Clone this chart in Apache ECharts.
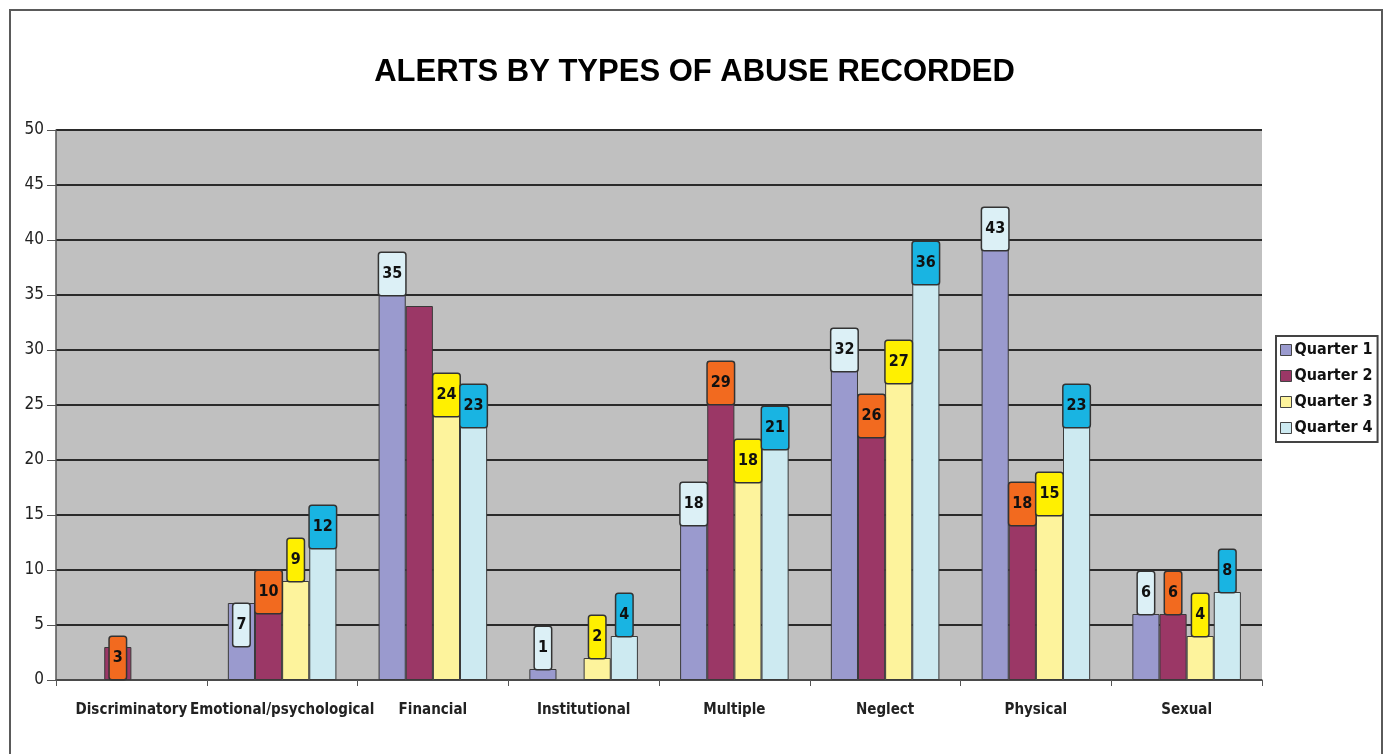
<!DOCTYPE html>
<html>
<head>
<meta charset="utf-8">
<script src="https://cdn.jsdelivr.net/npm/echarts@6/dist/echarts.min.js"></script>
<style>
html,body{margin:0;padding:0;background:#fff;}
#chart{width:1389px;height:754px;}
</style>
</head>
<body>
<div id="chart"></div>
<script>
const categories = ['Discriminatory','Emotional/psychological','Financial','Institutional','Multiple','Neglect','Physical','Sexual'];
const quarter1 = [0, 7, 35, 1, 18, 32, 43, 6];
const quarter2 = [3, 10, 34, 0, 29, 26, 18, 6];
const quarter3 = [0, 9, 24, 2, 18, 27, 15, 4];
const quarter4 = [0, 12, 23, 4, 21, 36, 23, 8];
const seriesNames = ['Quarter 1','Quarter 2','Quarter 3','Quarter 4'];
const yTicks = [0,5,10,15,20,25,30,35,40,45,50];

// label placement config (style, not data); default is 'top'
const labelPlacement = {
  'Quarter 1': {'Emotional/psychological': 'insideTop', 'Multiple': 'insideTop', 'Neglect': 'insideTop', 'Physical': 'insideTop'},
  'Quarter 2': {'Emotional/psychological': 'insideTop', 'Multiple': 'insideTop', 'Neglect': 'insideTop', 'Physical': 'insideTop', 'Discriminatory': 'insideBottom', 'Financial': 'hidden'},
  'Quarter 3': {},
  'Quarter 4': {}
};

const barColors = ['#9A9ACE','#9B3766','#FDF39C','#CDEAF1'];
const labelColors = ['#DCF0F6','#F26A1F','#FFF000','#19B4E2'];
const narrow = "'Liberation Sans Narrow','Arial Narrow','DejaVu Sans Condensed',sans-serif";

const allValues = [quarter1, quarter2, quarter3, quarter4];

const series = allValues.map((vals, si) => {
  const name = seriesNames[si];
  const data = vals.map((v, ci) => {
    const cat = categories[ci];
    const pos = labelPlacement[name][cat] || 'top';
    const item = {value: v === 0 ? null : v};
    item.label = {
      show: v !== 0 && pos !== 'hidden',
      position: pos === 'hidden' ? 'top' : pos,
      distance: pos === 'top' ? 0 : 1
    };
    return item;
  });
  return {
    name,
    type: 'bar',
    data,
    barGap: '0%',
    barCategoryGap: '28%',
    itemStyle: {color: barColors[si], borderColor: '#3a3a3a', borderWidth: 1},
    label: {
      show: true,
      color: '#111',
      fontFamily: narrow,
      fontWeight: 'bold',
      fontSize: 16,
      lineHeight: 18,
      backgroundColor: labelColors[si],
      borderColor: '#333',
      borderWidth: 1.5,
      borderRadius: 2,
      padding: [12, 3, 12, 3]
    },
    emphasis: {disabled: true}
  };
});

const chart = echarts.init(document.getElementById('chart'), null, {renderer: 'canvas'});
chart.setOption({
  animation: false,
  backgroundColor: '#fff',
  title: {
    text: 'ALERTS BY TYPES OF ABUSE RECORDED',
    left: 'center',
    top: 52,
    textStyle: {fontFamily: "'Liberation Sans',Arial,sans-serif", fontWeight: 'bold', fontSize: 31, color: '#000'}
  },
  legend: {
    orient: 'vertical',
    left: 1276,
    top: 336,
    itemWidth: 11,
    itemHeight: 11,
    itemGap: 10,
    padding: [6, 5, 6, 4],
    borderColor: '#444',
    borderWidth: 2,
    icon: 'rect',
    data: seriesNames,
    itemStyle: {borderColor: '#444', borderWidth: 1},
    textStyle: {fontFamily: narrow, fontWeight: 'bold', fontSize: 16, color: '#111', padding: [0,0,0,-2]}
  },
  grid: {left: 56, right: 127, top: 130, bottom: 74, show: true, backgroundColor: '#C0C0C0', borderWidth: 0},
  xAxis: {
    type: 'category',
    data: categories,
    axisLine: {lineStyle: {color: '#555', width: 1.5}},
    axisTick: {show: true, length: 6, lineStyle: {color: '#555'}},
    axisLabel: {fontFamily: narrow, fontWeight: 'bold', fontSize: 15, color: '#222', margin: 23, interval: 0}
  },
  yAxis: {
    type: 'value',
    min: yTicks[0],
    max: yTicks[yTicks.length - 1],
    interval: 5,
    axisLine: {show: true, lineStyle: {color: '#555', width: 1.5}},
    axisTick: {show: true, length: 9, lineStyle: {color: '#555'}},
    axisLabel: {fontFamily: narrow, fontSize: 17, color: '#222', margin: 12},
    splitLine: {lineStyle: {color: '#2a2a2a', width: 2}}
  },
  graphic: [{
    type: 'rect',
    shape: {x: 10, y: 10, width: 1372, height: 800},
    style: {fill: 'none', stroke: '#5a5a5a', lineWidth: 2},
    silent: true
  }],
  series
});
</script>
</body>
</html>
